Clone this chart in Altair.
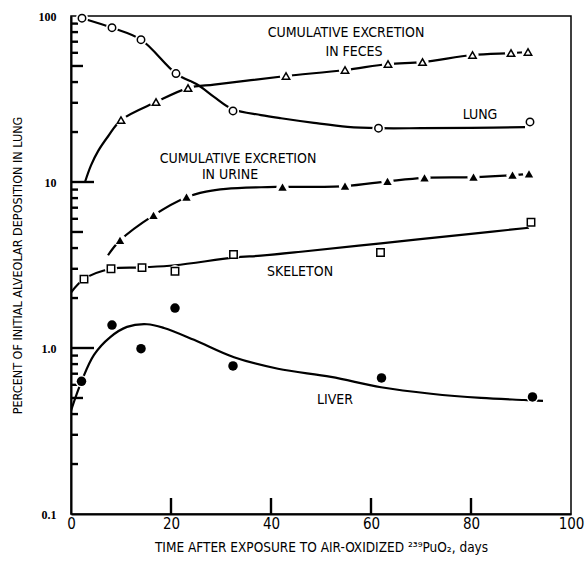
import altair as alt
import pandas as pd

# ---------------- data ----------------
lung_x = [2.2, 8.2, 14.0, 21.0, 32.4, 61.5, 91.8]
lung_y = [97, 85, 72, 45, 26.8, 21.1, 23.0]

feces_x = [10.0, 17.0, 23.4, 43.0, 54.8, 63.4, 70.3, 80.3, 88.0, 91.4]
feces_y = [23.6, 30.3, 36.8, 43.5, 47.3, 51.4, 52.8, 58.2, 59.8, 60.7]

urine_x = [9.8, 16.5, 23.1, 42.3, 54.8, 63.3, 70.7, 80.5, 88.3, 91.6]
urine_y = [4.45, 6.3, 8.1, 9.3, 9.45, 10.1, 10.6, 10.7, 11.0, 11.2]

skel_x = [2.6, 8.0, 14.2, 20.8, 32.5, 61.9, 92.0]
skel_y = [2.6, 3.0, 3.05, 2.9, 3.66, 3.76, 5.72]

liver_x = [2.1, 8.2, 14.0, 20.8, 32.4, 62.1, 92.3]
liver_y = [0.63, 1.375, 0.99, 1.74, 0.78, 0.66, 0.507]

# fitted curves
lung_cx = [2.2, 8.2, 14.0, 21.0, 25.4, 28.6, 32.4, 38.0, 42.0, 48.6, 55.3, 61.4, 70.0, 80.0, 90.8]
lung_cy = [97, 85, 72, 45, 38.4, 32.6, 27.4, 25.3, 24.2, 22.7, 21.5, 21.1, 21.1, 21.2, 21.4]

feces_cx = [2.8, 4.0, 5.5, 7.5, 10.0, 17.0, 23.4, 28.6, 35.2, 43.0, 54.8, 63.4, 70.3, 80.3, 88.0, 91.4]
feces_cy = [10.0, 12.6, 15.5, 19.0, 23.6, 30.3, 36.8, 38.6, 40.8, 43.5, 47.3, 51.4, 52.8, 58.2, 59.8, 60.7]

urine_cx = [7.4, 9.8, 16.5, 23.1, 27.0, 31.0, 38.0, 42.3, 54.8, 63.3, 70.7, 80.5, 88.3, 91.6]
urine_cy = [3.62, 4.45, 6.3, 8.1, 8.75, 9.1, 9.3, 9.35, 9.45, 10.1, 10.6, 10.7, 11.0, 11.2]

skel_cx = [0.0, 2.6, 8.0, 14.2, 20.8, 32.5, 38.0, 46.0, 62.0, 80.0, 91.6]
skel_cy = [2.16, 2.6, 3.0, 3.06, 3.15, 3.5, 3.6, 3.8, 4.27, 4.87, 5.3]

liver_cx = [0.0, 2.2, 4.6, 7.8, 11.2, 15.2, 18.6, 24.6, 32.6, 41.4, 52.0, 62.0, 72.0, 82.0, 90.6, 94.4]
liver_cy = [0.42, 0.64, 0.91, 1.16, 1.34, 1.39, 1.32, 1.12, 0.88, 0.75, 0.67, 0.58, 0.53, 0.50, 0.486, 0.48]

# axis ticks / labels
x_ticks = [0, 20, 40, 60, 80, 100]
x_inner_ticks = [20, 40, 60, 80]
y_labels = [0.1, 1, 10, 100]
y_major = [1, 10]
y_five = [0.5, 5, 50]
y_minor = [0.2, 0.3, 0.4, 0.6, 0.7, 0.8, 0.9, 2, 3, 4, 6, 7, 8, 9, 20, 30, 40, 60, 70, 80, 90]

label_texts = ["CUMULATIVE EXCRETION", "IN FECES", "LUNG", "CUMULATIVE EXCRETION",
               "IN URINE", "SKELETON", "LIVER"]

SANS = "Liberation Sans Narrow, DejaVu Sans Condensed, Roboto Condensed, sans-serif"

# ---------------- scales / axes ----------------
xs = alt.Scale(domain=[0, 100], nice=False, zero=False)
ys = alt.Scale(type="log", domain=[0.1, 100], nice=False)

xaxis = alt.Axis(values=x_ticks, ticks=False, grid=False, domain=True, domainColor="black",
                 domainWidth=2, labelFont=SANS, labelFontSize=15, labelColor="black",
                 labelPadding=2, labelFlush=False,
                 title="TIME AFTER EXPOSURE TO AIR-OXIDIZED \u00b2\u00b3\u2079PuO\u2082, days",
                 titleFont=SANS, titleFontSize=13.5, titleFontWeight="normal", titleColor="black",
                 titlePadding=9)
yaxis = alt.Axis(values=y_labels, ticks=False, grid=False, domain=True, domainColor="black",
                 domainWidth=2,
                 labelExpr="datum.value >= 100 ? '100' : datum.value >= 10 ? '10' : datum.value >= 1 ? '1.0' : '0.1'",
                 labelFont="Liberation Serif", labelFontWeight="bold", labelFontSize=12,
                 labelColor="black", labelPadding=15, labelFlush=False,
                 title="PERCENT OF INITIAL ALVEOLAR DEPOSITION IN LUNG",
                 titleFont=SANS, titleFontSize=12.5, titleFontWeight="normal", titleColor="black",
                 titlePadding=14)

X = alt.X("x:Q", scale=xs, axis=xaxis)
Y = alt.Y("y:Q", scale=ys, axis=yaxis)


def df(xv, yv):
    return pd.DataFrame({"x": xv, "y": yv})


def curve(xv, yv):
    return alt.Chart(df(xv, yv)).mark_line(
        color="black", strokeWidth=2.2, interpolate="catmull-rom", clip=True
    ).encode(x=X, y=Y, order="x:Q")


def halo(xv, yv, size):
    return alt.Chart(df(xv, yv)).mark_point(
        shape="circle", filled=True, color="white", opacity=1, size=size
    ).encode(x=X, y=Y)


def marker(xv, yv, shape, filled, size):
    if filled:
        m = alt.Chart(df(xv, yv)).mark_point(shape=shape, filled=True, color="black",
                                             opacity=1, size=size)
    else:
        m = alt.Chart(df(xv, yv)).mark_point(shape=shape, filled=False, color="black",
                                             fill="white", fillOpacity=1, opacity=1,
                                             strokeWidth=1.5, size=size)
    return m.encode(x=X, y=Y)


layers = []

# inward y ticks (lengths in px) and inward x ticks
for vals, ln in [(y_major, 23), (y_five, 12), (y_minor, 7)]:
    layers.append(
        alt.Chart(pd.DataFrame({"y": vals})).mark_rule(
            stroke="black", color="black", strokeWidth=2.4, opacity=1, strokeOpacity=1
        ).encode(
            y=alt.Y("y:Q", scale=ys, axis=yaxis),
            x=alt.value(0),
            x2=alt.value(ln),
        )
    )
layers.append(
    alt.Chart(pd.DataFrame({"x": x_inner_ticks})).mark_rule(
        stroke="black", color="black", strokeWidth=2.4, opacity=1, strokeOpacity=1
    ).encode(
        x=alt.X("x:Q", scale=xs, axis=xaxis),
        y=alt.value(498),
        y2=alt.value(482),
    )
)

# curves
for cx, cy in [(lung_cx, lung_cy), (feces_cx, feces_cy), (urine_cx, urine_cy),
               (skel_cx, skel_cy), (liver_cx, liver_cy)]:
    layers.append(curve(cx, cy))
# white gaps round markers
for px, py in [(lung_x, lung_y), (feces_x, feces_y), (urine_x, urine_y),
               (skel_x, skel_y), (liver_x, liver_y)]:
    layers.append(halo(px, py, 150))
# markers
layers.append(marker(lung_x, lung_y, "circle", False, 55))
layers.append(marker(feces_x, feces_y, "triangle-up", False, 55))
layers.append(marker(urine_x, urine_y, "triangle-up", True, 70))
layers.append(marker(skel_x, skel_y, "square", False, 55))
layers.append(marker(liver_x, liver_y, "circle", True, 90))

# curve labels (pixel positions inside the plot area)
label_pos = [(275, 17), (283, 36), (409, 99), (167, 143), (159, 159), (229, 256), (264, 384)]
for t, (px, py) in zip(label_texts, label_pos):
    layers.append(
        alt.Chart(pd.DataFrame({"t": [t]})).mark_text(
            font=SANS, fontSize=14, color="black", align="center", baseline="middle"
        ).encode(text="t:N", x=alt.value(px), y=alt.value(py))
    )

chart = alt.layer(*layers).properties(
    width=500, height=498,
    autosize=alt.AutoSizeParams(type="none"),
    padding={"left": 71, "top": 16, "right": 14, "bottom": 48},
    background="white",
).configure_view(stroke="black", strokeWidth=1.5)

chart.save("out.html", embed_options={"renderer": "svg", "actions": False})
